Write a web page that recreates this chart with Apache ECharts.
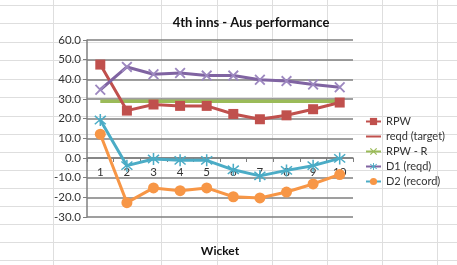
<!DOCTYPE html>
<html><head><meta charset="utf-8">
<script src="https://cdn.jsdelivr.net/npm/echarts@6/dist/echarts.min.js"></script>
<style>html,body{margin:0;padding:0;background:#fff}#c{width:457px;height:265px}</style>
</head><body><div id="c"></div>
<script>
var categories = ['1','2','3','4','5','6','7','8','9','10'];
var rpw = [47.5, 24.1, 27.2, 26.5, 26.5, 22.4, 19.7, 21.7, 24.8, 28.2];
var reqdTarget = [28.8, 28.8, 28.8, 28.8, 28.8, 28.8, 28.8, 28.8, 28.8, 28.8];
var rpwMinusR = [34.7, 46.3, 42.6, 43.2, 41.9, 41.9, 39.8, 39.1, 37.4, 36.0];
var d1Reqd = [19.3, -3.9, -0.5, -1.2, -1.2, -6.0, -9.1, -6.3, -3.9, -0.2];
var d2Record = [12.1, -22.7, -15.2, -16.6, -15.2, -19.7, -20.3, -17.3, -13.2, -8.4];
var yTicks = {min: -30, max: 60, interval: 10};

var FONT = 'Lato';
var X_SYM = 'path://M0,1.2L1.2,0L5,3.8L8.8,0L10,1.2L6.2,5L10,8.8L8.8,10L5,6.2L1.2,10L0,8.8L3.8,5Z';
var STAR_SYM = 'path://M4.4,0H5.6V4.1L8.9,1.1L9.7,2L6.3,5L9.7,8L8.9,8.9L5.6,5.9V10H4.4V5.9L1.1,8.9L0.3,8L3.7,5L0.3,2L1.1,1.1L4.4,4.1Z';

// spreadsheet background grid
var bg = [];
var hy = [5, 23, 42, 60, 79, 97, 116, 134, 152, 170, 188, 206, 224, 242, 260];
hy.forEach(function(y){ bg.push({type:'line', z:-10, silent:true, shape:{x1:0,y1:y+0.5,x2:457,y2:y+0.5}, style:{stroke:'#dedede', lineWidth:1}}); });
var vx = [53, 161, 217, 272, 327, 382, 437];
vx.forEach(function(x){ bg.push({type:'line', z:-10, silent:true, shape:{x1:x+0.5,y1:0,x2:x+0.5,y2:265}, style:{stroke:'#dedede', lineWidth:1}}); });

var GRID_TOP = 40, GRID_H = 177;
// distance from the bottom of the grid to the zero line, derived from the axis range
var zeroOffset = GRID_H * (0 - yTicks.min) / (yTicks.max - yTicks.min);

var chart = echarts.init(document.getElementById('c'));
chart.setOption({
  backgroundColor: 'transparent',
  animation: false,
  graphic: bg,
  title: {
    text: '4th inns - Aus performance',
    left: 246, top: 11, textAlign: 'center',
    textStyle: {fontFamily: FONT, fontWeight: 'bold', fontSize: 13, color: '#111'}
  },
  legend: {
    orient: 'vertical', left: 360, top: 110,
    itemWidth: 15, itemHeight: 9, itemGap: 2,
    textStyle: {fontFamily: FONT, fontSize: 11, color: '#333', lineHeight: 13},
    data: [
      {name: 'RPW'},
      {name: 'reqd (target)', lineStyle: {color: '#C0504D'}, itemStyle: {opacity: 0}},
      {name: 'RPW - R', lineStyle: {color: '#9BBB59'}, itemStyle: {color: '#9BBB59'}},
      {name: 'D1 (reqd)', lineStyle: {color: '#8064A2'}, itemStyle: {color: '#4BACC6'}},
      {name: 'D2 (record)', lineStyle: {color: '#4BACC6'}, itemStyle: {color: '#F79646'}}
    ]
  },
  grid: {left: 87, top: GRID_TOP, width: 266, height: GRID_H, containLabel: false, outerBoundsMode: 'none'},
  xAxis: {
    type: 'category', data: categories, boundaryGap: true,
    offset: -zeroOffset,
    name: 'Wicket', nameLocation: 'middle', nameGap: 87,
    nameTextStyle: {fontFamily: FONT, fontWeight: 'bold', fontSize: 12, color: '#111'},
    axisLine: {onZero: false, lineStyle: {color: '#7f7f7f', width: 1.5}},
    axisTick: {show: true, length: 4, lineStyle: {color: '#7f7f7f'}},
    axisLabel: {fontFamily: FONT, fontSize: 11.5, color: '#333', margin: 8}
  },
  yAxis: {
    type: 'value', min: yTicks.min, max: yTicks.max, interval: yTicks.interval,
    axisLine: {show: true, lineStyle: {color: '#7f7f7f', width: 1.5}},
    axisTick: {show: true, length: 4, lineStyle: {color: '#7f7f7f'}},
    axisLabel: {fontFamily: FONT, fontSize: 11.5, color: '#333', margin: 6,
      formatter: function(v){ return v.toFixed(1); }},
    splitLine: {lineStyle: {color: '#7f7f7f', width: 1.5}}
  },
  series: [
    {name: 'reqd (target)', type: 'line', data: reqdTarget, symbol: 'none', z: 2,
      color: '#9BBB59', lineStyle: {color: '#9BBB59', width: 3.5}},
    {name: 'RPW', type: 'line', data: rpw, symbol: 'rect', symbolSize: 10, z: 3,
      color: '#C0504D', itemStyle: {color: '#C0504D'}, lineStyle: {color: '#C0504D', width: 3}},
    {name: 'RPW - R', type: 'line', data: rpwMinusR, symbol: X_SYM, symbolSize: 11, z: 3,
      color: '#8064A2', itemStyle: {color: '#9d88c0'}, lineStyle: {color: '#8064A2', width: 3}},
    {name: 'D1 (reqd)', type: 'line', data: d1Reqd, symbol: STAR_SYM, symbolSize: 12, z: 3,
      color: '#4BACC6', itemStyle: {color: '#4BACC6'}, lineStyle: {color: '#4BACC6', width: 3}},
    {name: 'D2 (record)', type: 'line', data: d2Record, symbol: 'circle', symbolSize: 11, z: 3,
      color: '#F79646', itemStyle: {color: '#F79646'}, lineStyle: {color: '#F79646', width: 3}}
  ]
});
</script></body></html>
